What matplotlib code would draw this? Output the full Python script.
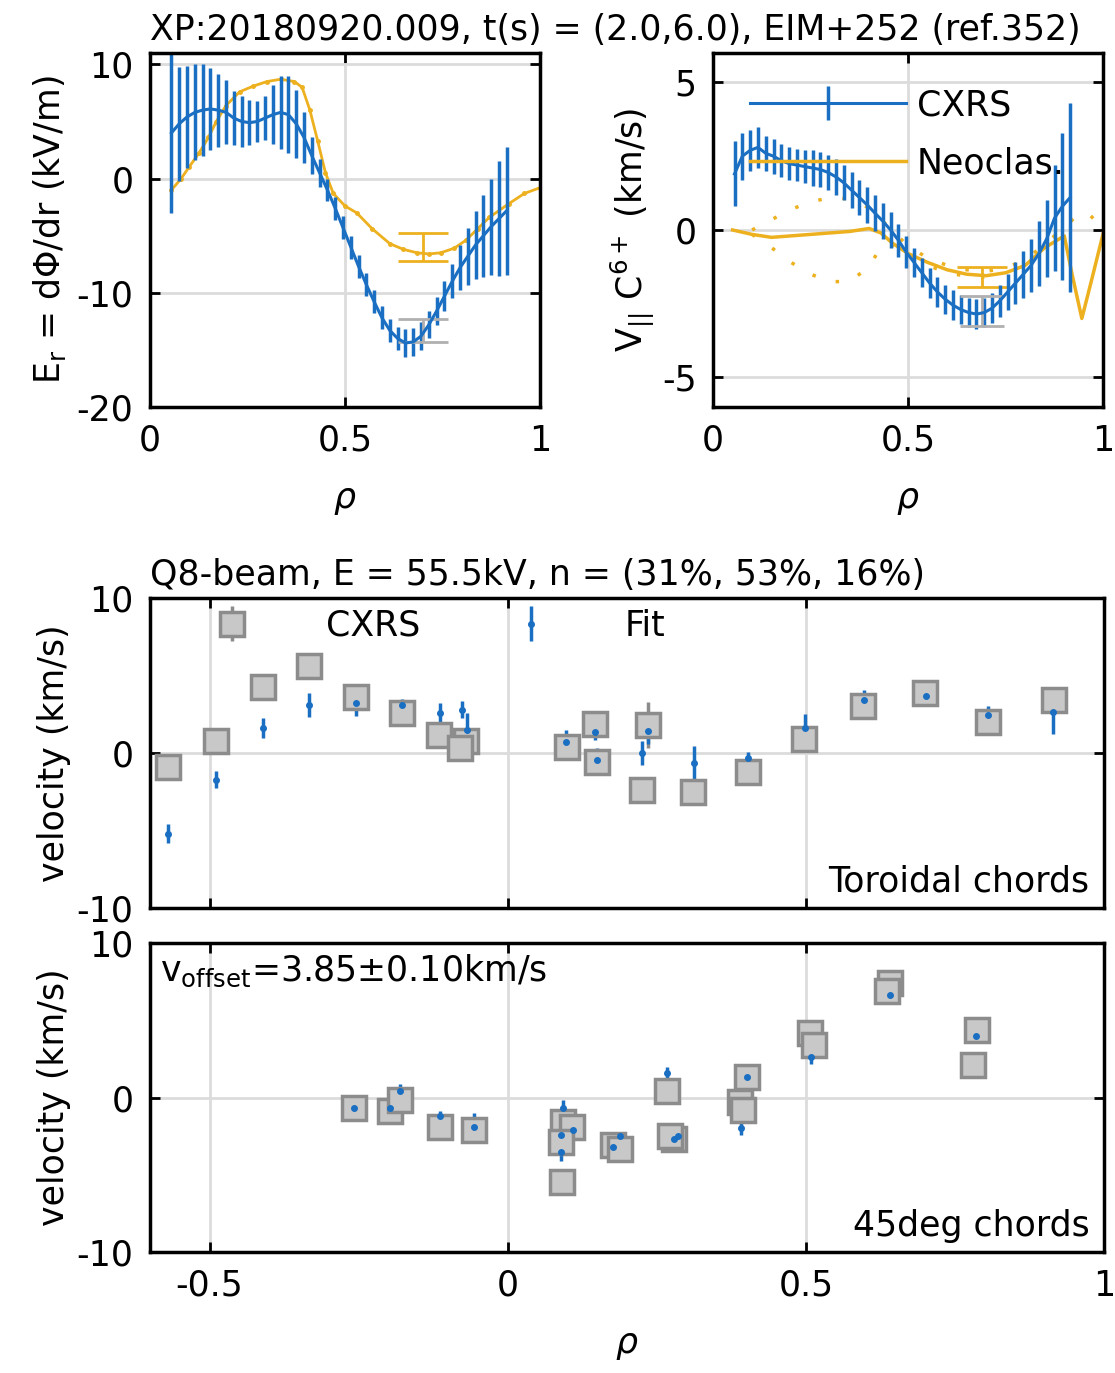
import matplotlib
matplotlib.use('Agg')
import matplotlib.pyplot as plt

plt.rcParams['font.family'] = ['DejaVu Sans']
plt.rcParams['font.size'] = 25
plt.rcParams['mathtext.fontset'] = 'dejavusans'
plt.rcParams['axes.unicode_minus'] = False

BLUE = '#1a6fc2'
ORANGE = '#EDB120'
GRAY_E = '#8c8c8c'
GRAY_F = '#c8c8c8'

# ---- top left: Er profile ----
rho_cx = [0.055, 0.075, 0.095, 0.115, 0.135, 0.155, 0.175, 0.195, 0.215, 0.235, 0.255,
          0.275, 0.295, 0.315, 0.335, 0.355, 0.375, 0.395, 0.415, 0.435, 0.455, 0.475,
          0.495, 0.515, 0.535, 0.555, 0.575, 0.595, 0.615, 0.635, 0.655, 0.675, 0.695,
          0.715, 0.735, 0.755, 0.775, 0.795, 0.815, 0.835, 0.855, 0.875, 0.895, 0.915]
er_cx = [4.0, 4.8, 5.4, 5.8, 6.0, 6.1, 6.0, 5.8, 5.3, 5.0, 4.9,
         5.0, 5.3, 5.6, 5.8, 5.6, 4.8, 3.6, 2.0, 0.5, -1.0, -2.6,
         -4.3, -6.0, -7.7, -9.3, -10.8, -12.2, -13.3, -14.0, -14.4, -14.3, -13.8,
         -12.8, -11.6, -10.3, -9.0, -7.8, -6.8, -5.8, -5.0, -4.2, -3.5, -2.8]
er_cx_err = [7.0, 5.0, 4.5, 4.2, 4.0, 3.6, 3.2, 2.8, 2.4, 2.2, 2.0,
             1.8, 1.9, 2.6, 3.2, 3.4, 3.0, 2.2, 1.6, 1.2, 1.0, 1.0,
             1.0, 1.0, 1.0, 1.0, 1.0, 1.0, 1.0, 1.0, 1.2, 1.2, 1.2,
             1.2, 1.2, 1.3, 1.5, 2.0, 2.5, 3.0, 3.6, 4.2, 5.0, 5.6]

rho_neo_er = [0.055, 0.08, 0.10, 0.125, 0.15, 0.17, 0.195, 0.23, 0.265, 0.30, 0.335,
              0.37, 0.39, 0.41, 0.43, 0.45, 0.47, 0.50, 0.53, 0.57, 0.615, 0.65,
              0.685, 0.715, 0.745, 0.78, 0.81, 0.84, 0.87, 0.92, 0.96, 1.0]
er_neo = [-1.0, 0.0, 1.0, 2.2, 3.6, 5.0, 6.4, 7.6, 8.1, 8.5, 8.7,
          8.5, 8.0, 6.0, 3.3, 0.5, -1.3, -2.4, -3.0, -4.4, -5.7, -6.2,
          -6.5, -6.6, -6.5, -6.1, -5.4, -4.4, -3.4, -2.2, -1.3, -0.8]
er_neo_bar = (0.70, -6.0, 1.2)
er_cx_bar = (0.70, -13.3, 1.0)

# ---- top right: parallel velocity ----
v_cx = [1.9, 2.5, 2.7, 2.8, 2.6, 2.5, 2.35, 2.25, 2.2, 2.15, 2.1,
        2.05, 1.95, 1.8, 1.6, 1.35, 1.1, 0.85, 0.57, 0.3, 0.0, -0.35,
        -0.75, -1.1, -1.45, -1.8, -2.1, -2.35, -2.55, -2.7, -2.8, -2.85, -2.8,
        -2.65, -2.4, -2.1, -1.8, -1.5, -1.2, -0.8, -0.3, 0.4, 0.8, 1.1]
v_cx_err = [1.1, 0.8, 0.7, 0.7, 0.6, 0.6, 0.55, 0.55, 0.55, 0.55, 0.6,
            0.6, 0.6, 0.6, 0.6, 0.6, 0.6, 0.6, 0.6, 0.6, 0.6, 0.55,
            0.55, 0.5, 0.5, 0.5, 0.5, 0.5, 0.5, 0.5, 0.5, 0.5, 0.5,
            0.5, 0.55, 0.6, 0.7, 0.8, 0.9, 1.1, 1.3, 1.8, 2.5, 3.2]

rho_neo_v = [0.05, 0.10, 0.15, 0.20, 0.25, 0.30, 0.35, 0.40, 0.43, 0.46, 0.50, 0.55,
             0.60, 0.65, 0.70, 0.75, 0.80, 0.85, 0.90, 0.92, 0.945, 0.97, 1.0]
v_neo = [0.0, -0.15, -0.25, -0.2, -0.15, -0.1, -0.05, 0.05, -0.1, -0.45, -0.8, -1.1,
         -1.35, -1.5, -1.55, -1.45, -1.2, -0.6, -0.2, -1.5, -3.0, -1.7, -0.1]
rho_neo_up = [0.10, 0.15, 0.20, 0.25, 0.30, 0.35, 0.40, 0.45, 0.50, 0.55, 0.60, 0.65,
              0.70, 0.75, 0.80, 0.85, 0.90, 0.93, 0.96, 0.99]
v_neo_up = [0.0, 0.35, 0.7, 0.95, 1.1, 1.05, 0.75, 0.1, -0.55, -0.95, -1.2, -1.35,
            -1.4, -1.3, -1.0, -0.5, 0.1, 0.45, 0.6, 0.15]
rho_neo_lo = [0.10, 0.15, 0.20, 0.25, 0.30, 0.35, 0.40, 0.42, 0.44, 0.47, 0.52, 0.57,
              0.62, 0.67, 0.72]
v_neo_lo = [-0.15, -0.6, -1.1, -1.5, -1.75, -1.75, -1.25, -0.8, -0.45, -0.6, -1.0, -1.3,
            -1.5, -1.6, -1.6]
v_neo_bar = (0.69, -1.6, 0.35)
v_cx_bar = (0.69, -2.75, 0.5)

# ---- toroidal chords ----
tor_rho = [-0.570, -0.490, -0.411, -0.334, -0.254, -0.178, -0.116, -0.070, -0.080,
           0.099, 0.146, 0.149, 0.225, 0.235, 0.311, 0.403, 0.497, 0.596, 0.700, 0.806, 0.916]
tor_v = [-0.9, 0.77, 4.26, 5.6, 3.6, 2.6, 1.16, 0.8, 0.3,
         0.39, 1.9, -0.6, -2.4, 1.8, -2.5, -1.2, 0.9, 3.0, 3.84, 2.0, 3.4]
tor_err = [0.4, 0.4, 0.4, 0.4, 0.4, 0.4, 0.4, 0.4, 0.4,
           0.4, 0.4, 0.4, 0.4, 1.5, 0.4, 0.4, 0.4, 0.4, 0.4, 0.4, 0.4]
tor_fit_rho = [-0.570, -0.490, -0.411, -0.334, -0.254, -0.178, -0.114, -0.077, -0.069,
               0.097, 0.146, 0.149, 0.225, 0.235, 0.312, 0.403, 0.498, 0.597, 0.701, 0.806, 0.915]
tor_fit = [-5.2, -1.74, 1.6, 3.1, 3.2, 3.1, 2.6, 2.8, 1.5,
           0.7, 1.36, -0.45, 0.0, 1.4, -0.64, -0.3, 1.6, 3.4, 3.7, 2.45, 2.65]
tor_fit_err = [0.6, 0.55, 0.65, 0.75, 0.8, 0.4, 0.6, 0.55, 1.1,
               0.75, 0.55, 0.8, 0.8, 0.8, 1.1, 0.35, 0.9, 0.65, 0.45, 0.55, 1.4]

# ---- 45deg chords ----
d45_rho = [-0.258, -0.198, -0.181, -0.114, -0.057, 0.091, 0.093, 0.107, 0.089, 0.176, 0.188,
           0.267, 0.279, 0.272, 0.401, 0.389, 0.395, 0.507, 0.514, 0.641, 0.636, 0.787, 0.781]
d45_v = [-0.65, -0.9, -0.13, -1.9, -2.1, -5.5, -1.6, -1.9, -2.9, -3.1, -3.3,
         0.4, -2.7, -2.5, 1.3, -0.3, -0.8, 4.2, 3.4, 7.4, 6.9, 4.4, 2.1]
d45_err = [0.3] * 23
d45_fit_rho = [-0.258, -0.197, -0.180, -0.114, -0.057, 0.092, 0.090, 0.090, 0.109, 0.176, 0.188,
               0.267, 0.279, 0.285, 0.401, 0.392, 0.508, 0.641, 0.785]
d45_fit = [-0.7, -0.7, 0.4, -1.2, -1.9, -0.65, -2.4, -3.5, -2.1, -3.2, -2.5,
           1.6, -2.7, -2.5, 1.35, -1.95, 2.65, 6.65, 3.95]
d45_fit_err = [0.2, 0.2, 0.5, 0.3, 0.9, 0.5, 0.9, 0.6, 0.4, 0.4, 0.3,
               0.4, 0.4, 0.3, 0.6, 0.5, 0.5, 0.4, 0.3]


def style(ax):
    ax.grid(True, color='#dcdcdc', lw=2)
    ax.set_axisbelow(True)
    ax.tick_params(direction='in', length=7, width=2, top=True, right=True, pad=12)
    for s in ax.spines.values():
        s.set_linewidth(2.5)


fig = plt.figure(figsize=(11.15, 13.73), dpi=100)
ax1 = fig.add_axes([0.1345, 0.7036, 0.3498, 0.2578])
ax2 = fig.add_axes([0.6395, 0.7036, 0.3500, 0.2578])
ax3 = fig.add_axes([0.1345, 0.3387, 0.8556, 0.2258])
ax4 = fig.add_axes([0.1345, 0.0881, 0.8556, 0.2251])

# Er
ax1.plot(rho_neo_er, er_neo, '.-', color=ORANGE, lw=2, ms=5)
ax1.errorbar(*er_neo_bar[:2], yerr=er_neo_bar[2], color=ORANGE, capsize=18, elinewidth=2, capthick=2)
ax1.errorbar(rho_cx, er_cx, yerr=er_cx_err, color=BLUE, lw=2.2, elinewidth=2.5, capsize=0)
ax1.errorbar(*er_cx_bar[:2], yerr=er_cx_bar[2], color='#b0b0b0', capsize=18, elinewidth=2, capthick=2)
ax1.set_xlim(0, 1)
ax1.set_ylim(-20, 11)
ax1.set_xticks([0, 0.5, 1])
ax1.set_xticklabels(['0', '0.5', '1'])
ax1.set_yticks([-20, -10, 0, 10])
ax1.set_xlabel(r'$\rho$', labelpad=18)
ax1.set_ylabel(r'E$_\mathregular{r}$ = d$\Phi$/dr (kV/m)', labelpad=6)
style(ax1)

# V parallel
ax2.plot(rho_neo_up, v_neo_up, color=ORANGE, lw=2.5, ls=(0, (1, 6)))
ax2.plot(rho_neo_lo, v_neo_lo, color=ORANGE, lw=2.5, ls=(0, (1, 6)))
hn, = ax2.plot(rho_neo_v, v_neo, color=ORANGE, lw=2.5)
ax2.errorbar(*v_neo_bar[:2], yerr=v_neo_bar[2], color=ORANGE, capsize=18, elinewidth=2, capthick=2)
hc = ax2.errorbar(rho_cx, v_cx, yerr=v_cx_err, color=BLUE, lw=2.2, elinewidth=2.5, capsize=0)
ax2.errorbar(*v_cx_bar[:2], yerr=v_cx_bar[2], color='#b0b0b0', capsize=16, elinewidth=2, capthick=2)
ax2.set_xlim(0, 1)
ax2.set_ylim(-6, 6)
ax2.set_xticks([0, 0.5, 1])
ax2.set_xticklabels(['0', '0.5', '1'])
ax2.set_yticks([-5, 0, 5])
ax2.set_xlabel(r'$\rho$', labelpad=18)
ax2.set_ylabel(r'V$_{||}$ C$^{6+}$ (km/s)')
ax2.legend([hc, hn], ['CXRS', 'Neoclas.'], loc='upper left', bbox_to_anchor=(0.05, 0.95),
           frameon=False, handlelength=4.5, handletextpad=0.3, borderpad=0, labelspacing=0.7)
style(ax2)

# toroidal
h1 = ax3.errorbar(tor_rho, tor_v, yerr=tor_err, fmt='s', ms=17, mfc=GRAY_F, mec=GRAY_E, mew=2.5,
                  ecolor=GRAY_E, elinewidth=2.5, capsize=0)
h2 = ax3.errorbar(tor_fit_rho, tor_fit, yerr=tor_fit_err, fmt='.', ms=8, color=BLUE,
                  elinewidth=2.5, capsize=0)
ax3.set_xlim(-0.6, 1)
ax3.set_ylim(-10, 10)
ax3.set_xticks([-0.5, 0, 0.5, 1])
ax3.set_xticklabels([])
ax3.set_yticks([-10, 0, 10])
ax3.set_ylabel('velocity (km/s)')
ax3.legend([h1, h2], ['CXRS', 'Fit'], ncol=2, loc='center left', bbox_to_anchor=(0.013, 0.91),
           frameon=False, handlelength=3, handletextpad=1.2, columnspacing=1.7, borderpad=0)
ax3.text(0.985, 0.03, 'Toroidal chords', transform=ax3.transAxes, ha='right', va='bottom')
style(ax3)

# 45 deg
ax4.errorbar(d45_rho, d45_v, yerr=d45_err, fmt='s', ms=17, mfc=GRAY_F, mec=GRAY_E, mew=2.5,
             ecolor=GRAY_E, elinewidth=2.5, capsize=0)
ax4.errorbar(d45_fit_rho, d45_fit, yerr=d45_fit_err, fmt='.', ms=8, color=BLUE,
             elinewidth=2.5, capsize=0)
ax4.set_xlim(-0.6, 1)
ax4.set_ylim(-10, 10)
ax4.set_xticks([-0.5, 0, 0.5, 1])
ax4.set_xticklabels(['-0.5', '0', '0.5', '1'])
ax4.set_yticks([-10, 0, 10])
ax4.set_ylabel('velocity (km/s)')
ax4.set_xlabel(r'$\rho$', labelpad=18)
ax4.text(0.01, 0.97, r'v$_\mathregular{offset}$=3.85$\pm$0.10km/s', transform=ax4.transAxes,
         ha='left', va='top')
ax4.text(0.985, 0.03, '45deg chords', transform=ax4.transAxes, ha='right', va='bottom')
style(ax4)

fig.text(0.1345, 0.978, 'XP:20180920.009, t(s) = (2.0,6.0), EIM+252 (ref.352)', ha='left', va='center')
fig.text(0.1345, 0.581, 'Q8-beam, E = 55.5kV, n = (31%, 53%, 16%)', ha='left', va='center')

fig.savefig('out.png', dpi=100)
